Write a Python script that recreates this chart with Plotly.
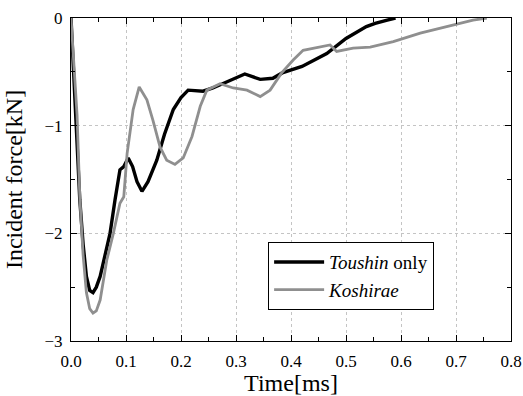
import plotly.graph_objects as go

# Toushin only (black)
t_toushin = [0.0, 0.003, 0.007, 0.012, 0.016, 0.022, 0.028, 0.034, 0.040, 0.046, 0.053, 0.062,
             0.071, 0.080, 0.089, 0.096, 0.104, 0.112, 0.120, 0.129, 0.140, 0.156, 0.170, 0.186,
             0.200, 0.213, 0.240, 0.258, 0.290, 0.316, 0.344, 0.367, 0.384, 0.420, 0.465,
             0.500, 0.537, 0.553, 0.575, 0.590]
f_toushin = [0.0, -0.3, -0.8, -1.3, -1.69, -2.1, -2.4, -2.53, -2.55, -2.5, -2.4, -2.2,
             -2.0, -1.69, -1.41, -1.38, -1.30, -1.38, -1.52, -1.61, -1.52, -1.32, -1.08, -0.85,
             -0.74, -0.67, -0.68, -0.65, -0.58, -0.52, -0.57, -0.56, -0.51, -0.45, -0.33,
             -0.19, -0.08, -0.05, -0.02, 0.0]

# Koshirae (gray)
t_koshirae = [0.0, 0.003, 0.007, 0.011, 0.016, 0.022, 0.028, 0.034, 0.040, 0.046, 0.053, 0.065,
              0.077, 0.089, 0.096, 0.102, 0.113, 0.124, 0.138, 0.149, 0.162, 0.174, 0.189,
              0.204, 0.220, 0.235, 0.247, 0.271, 0.295, 0.320, 0.344, 0.362, 0.383, 0.404,
              0.422, 0.471, 0.483, 0.513, 0.544, 0.586, 0.635, 0.684, 0.731, 0.756]
f_koshirae = [0.0, -0.25, -0.6, -0.9, -1.66, -2.2, -2.55, -2.7, -2.74, -2.72, -2.62, -2.25,
              -2.0, -1.72, -1.66, -1.26, -0.85, -0.64, -0.76, -0.95, -1.2, -1.32, -1.36,
              -1.30, -1.10, -0.82, -0.67, -0.61, -0.65, -0.67, -0.73, -0.67, -0.51, -0.39,
              -0.30, -0.25, -0.31, -0.28, -0.27, -0.22, -0.14, -0.08, -0.02, 0.0]

serif = "Liberation Serif"

fig = go.Figure()
fig.add_trace(go.Scatter(x=t_toushin, y=f_toushin, mode="lines", name="<i>Toushin</i> only",
                         line=dict(color="black", width=3.4)))
fig.add_trace(go.Scatter(x=t_koshirae, y=f_koshirae, mode="lines", name="<i>Koshirae</i>",
                         line=dict(color="#8f8f8f", width=2.8)))

axis_common = dict(showline=True, linecolor="black", linewidth=1.2, mirror="ticks",
                   ticks="inside", ticklen=6, tickcolor="black", tickwidth=1,
                   showgrid=True, gridcolor="#c4c4c4", griddash="dot", gridwidth=1,
                   zeroline=False, ticklabelstandoff=4, automargin=False,
                   tickfont=dict(family=serif, size=17, color="black"))

fig.update_xaxes(range=[0, 0.8], dtick=0.1, tickformat=".1f",
                 title=dict(text="Time[ms]", font=dict(family=serif, size=24, color="black")),
                 minor=dict(dtick=0.05, ticks="inside", ticklen=4, tickcolor="black", showgrid=False),
                 **axis_common)
fig.update_yaxes(range=[-3, 0], dtick=1,
                 title=dict(text="Incident force[kN]", font=dict(family=serif, size=24, color="black")),
                 minor=dict(dtick=0.5, ticks="inside", ticklen=4, tickcolor="black", showgrid=False),
                 **axis_common)

fig.update_layout(
    width=523, height=396,
    margin=dict(l=71, r=12, t=18, b=55),
    paper_bgcolor="white", plot_bgcolor="white",
    showlegend=True,
    legend=dict(x=0.448, y=0.306, xanchor="left", yanchor="top",
                bordercolor="black", borderwidth=1, bgcolor="white",
                font=dict(family=serif, size=19, color="black"),
                tracegroupgap=0, itemwidth=50),
)

fig.write_html("out.html")
